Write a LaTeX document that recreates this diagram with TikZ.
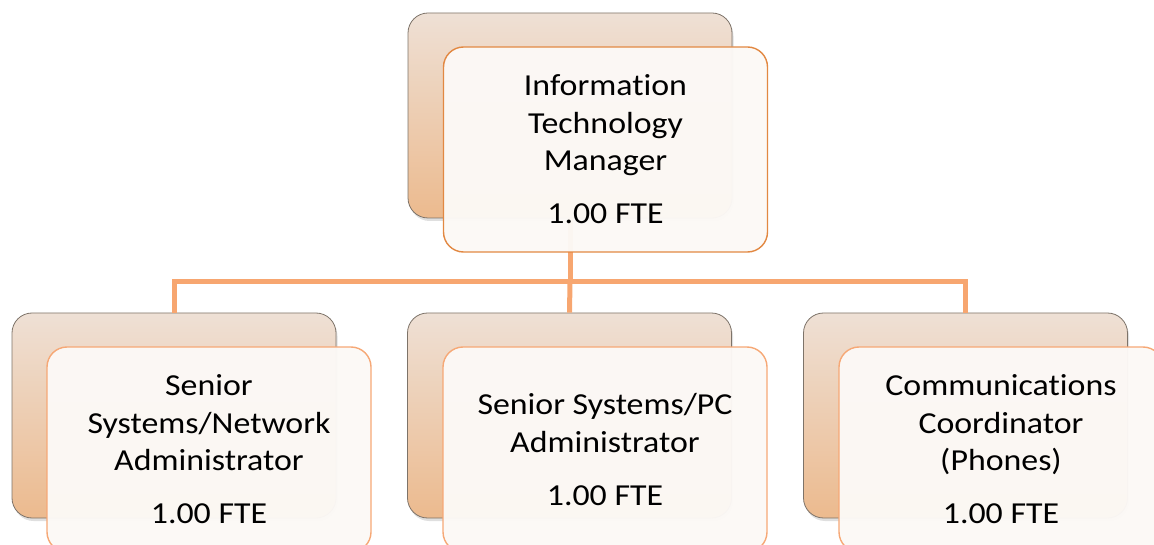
\documentclass[tikz,border=0pt]{standalone}
\usepackage{fontspec}
\setmainfont{Carlito}[Ligatures=NoCommon, FakeStretch=1.11]
\usetikzlibrary{shadows}
\definecolor{backtop}{RGB}{238,224,213}
\definecolor{backbot}{RGB}{236,186,142}
\definecolor{backedge}{RGB}{125,115,105}
\definecolor{frontfill}{RGB}{252,249,246}
\definecolor{mgredge}{RGB}{226,136,66}
\definecolor{staffedge}{RGB}{246,168,118}
\definecolor{busline}{RGB}{247,166,112}
\tikzset{
  backcard/.style={rectangle, rounded corners=20pt, minimum width=324pt,
    minimum height=205pt, draw=backedge, line width=0.8pt,
    top color=backtop, bottom color=backbot,
    drop shadow={opacity=0.25, shadow xshift=1.5pt, shadow yshift=-3pt}},
  frontcard/.style={rectangle, rounded corners=20pt, minimum width=324pt,
    minimum height=205pt, line width=1.4pt, fill=frontfill,
    fill opacity=0.97, text opacity=1, align=center, text=black,
    font=\fontsize{30.5}{37.5}\selectfont, inner sep=0pt},
  mgrcard/.style={frontcard, draw=mgredge},
  staffcard/.style={frontcard, draw=staffedge},
  bus/.style={draw=busline, line width=5pt}
}
\begin{document}
\begin{tikzpicture}[x=1pt, y=-1pt]
\useasboundingbox (0,0) rectangle (1154,545);
\clip (0,0) rectangle (1154,545);

% back cards
\node[backcard] (topB) at (570,115.5) {};
\node[backcard] (leftB) at (174,415.5) {};
\node[backcard] (midB) at (569.5,415.5) {};
\node[backcard] (rightB) at (965.5,415.5) {};

% reporting lines
\coordinate (bus) at (570,282);
\draw[bus] (topB.south) -- (bus);
\draw[bus] (bus) -| (leftB.north);
\draw[bus] (bus) -| (rightB.north);
\draw[bus] (bus) -- (midB.north);

% front cards with titles
\node[mgrcard] (top) at (605.5,149.5)
  {Information\\Technology\\Manager\\[15.5pt]1.00 FTE};
\node[staffcard] (left) at (209,449.5)
  {Senior\\Systems/Network\\Administrator\\[15.5pt]1.00 FTE};
\node[staffcard] (mid) at (605,449.5)
  {Senior Systems/PC\\Administrator\\[15.5pt]1.00 FTE};
\node[staffcard] (right) at (1001,449.5)
  {Communications\\Coordinator\\(Phones)\\[15.5pt]1.00 FTE};
\end{tikzpicture}
\end{document}
